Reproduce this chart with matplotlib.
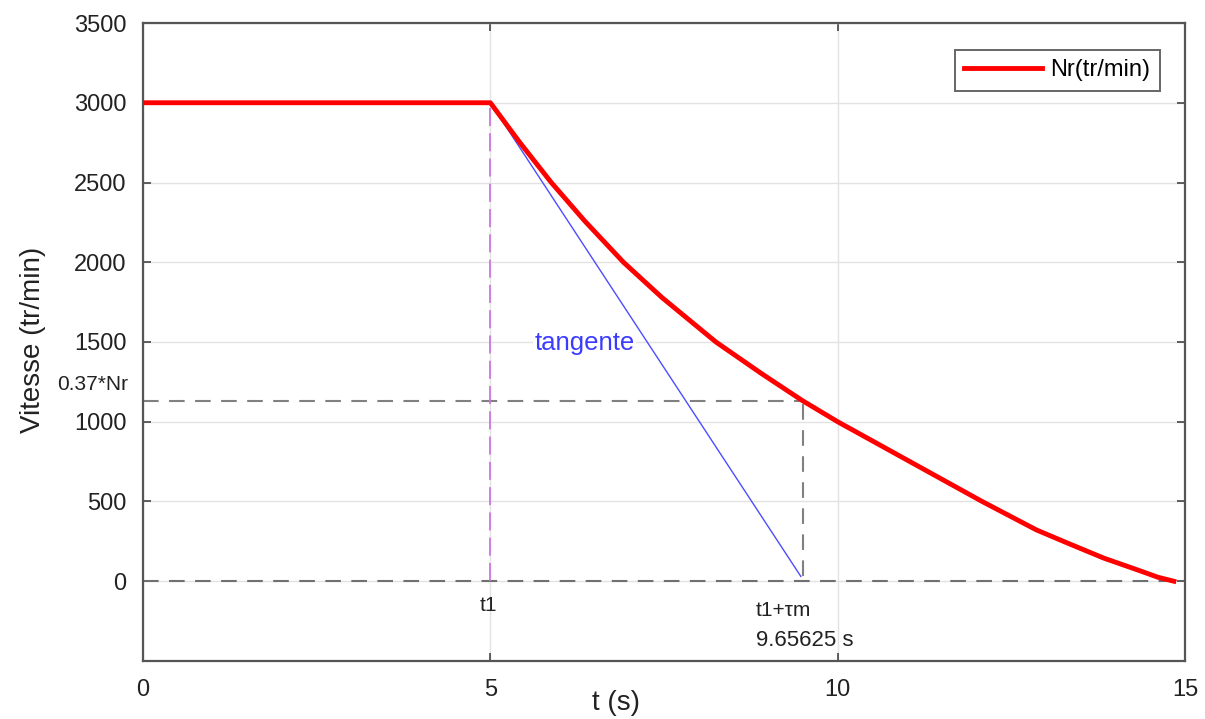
import matplotlib
matplotlib.use("Agg")
import matplotlib.pyplot as plt
from matplotlib.transforms import blended_transform_factory

plt.rcParams["font.family"] = ["Liberation Sans", "DejaVu Sans"]

# speed curve
t = [0, 5, 5.42, 5.877, 6.36, 6.916, 7.47, 8.247, 8.9, 9.49, 10.0, 11.04, 12.08, 12.86, 13.31,
     13.83, 14.29, 14.61, 14.84]
nr = [3000, 3000, 2753, 2500, 2258, 2000, 1779, 1500, 1303, 1133, 1000, 750, 500, 322, 239,
      145, 75, 25, 0]

t1 = 5.0
nr0 = 3000
t_tan_end = 9.47
nr_tan_end = 30
t_tau = 9.5
nr_037 = 1133
t_end = 15

xticks = [0, 5, 10, 15]
yticks = [0, 500, 1000, 1500, 2000, 2500, 3000, 3500]

fig = plt.figure(figsize=(12.05, 7.19), dpi=100)
ax = fig.add_axes([0.1187, 0.0807, 0.8647, 0.8873])

ax.set_xlim(0, 15)
ax.set_ylim(-500, 3500)
ax.set_xticks(xticks)
ax.set_yticks(yticks)
ax.grid(True, color="#e2e2e2", linewidth=1.0)
ax.set_axisbelow(True)
ax.tick_params(direction="in", length=6, width=1.2, color="#444444",
               labelsize=17, top=True, right=True, labelcolor="#222222")
ax.tick_params(axis="x", pad=13)
ax.tick_params(axis="y", pad=12)
for s in ax.spines.values():
    s.set_color("#555555")
    s.set_linewidth(1.6)

# reference lines
ax.plot([0, t_end], [0, 0], color="#707070", lw=1.5, dashes=(7.5, 5))
ax.plot([0, t_tau], [nr_037, nr_037], color="#808080", lw=1.5, dashes=(7.5, 5))
ax.plot([t_tau, t_tau], [nr_tan_end, nr_037], color="#808080", lw=1.5, dashes=(7.5, 5))
ax.plot([t1, t1], [0, nr0], color="#cc77dd", lw=1.3, dashes=(10, 4))

# tangent
ax.plot([t1, t_tan_end], [nr0, nr_tan_end], color="#4d4dff", lw=1.0)

ax.plot(t, nr, color="#ff0000", lw=3.5, label="Nr(tr/min)", zorder=5,
        solid_joinstyle="round")

ax.text(6.36, 1492, "tangente", color="#3b3bff", fontsize=18.5, ha="center", va="center",
        bbox=dict(facecolor="white", edgecolor="none", pad=1), zorder=4)

ax.text(4.97, -150, "t1", fontsize=15, color="#222222", ha="center", va="center")
ax.text(8.82, -182, "t1+\u03c4m", fontsize=15, color="#222222", ha="left", va="center")
ax.text(8.82, -370, "9.65625 s", fontsize=16, color="#222222", ha="left", va="center")

trans = blended_transform_factory(ax.transAxes, ax.transData)
ax.text(-0.014, 1235, "0.37*Nr", fontsize=15, color="#222222", ha="right", va="center",
        transform=trans, clip_on=False)

ax.set_xlabel("t (s)", fontsize=20, color="#222222")
ax.xaxis.set_label_coords(0.454, -0.045)
ax.set_ylabel("Vitesse (tr/min)", fontsize=20, color="#222222")
ax.yaxis.set_label_coords(-0.093, 0.503)

leg = ax.legend(loc="upper right", bbox_to_anchor=(0.976, 0.958), borderaxespad=0,
                fontsize=17, fancybox=False, edgecolor="#666666", framealpha=1,
                handlelength=3.3, handletextpad=0.35, borderpad=0.4)
leg.get_frame().set_linewidth(1.4)

fig.savefig("out.png", dpi=100)
